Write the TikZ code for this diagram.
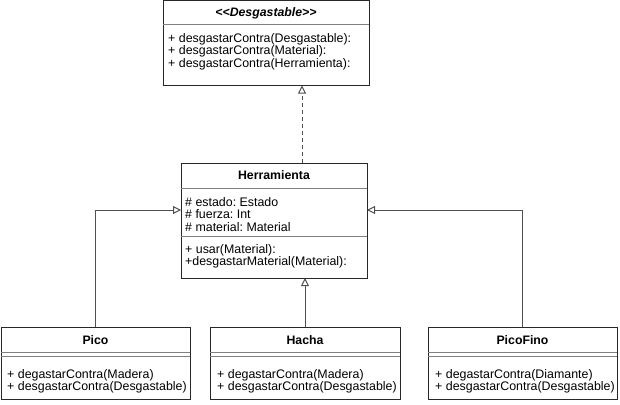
\documentclass[tikz,border=0pt]{standalone}
\usepackage{fontspec}
\setmainfont{Liberation Sans}
\usetikzlibrary{arrows.meta, positioning, calc}
\definecolor{border}{RGB}{40, 40, 40}
\definecolor{divider}{RGB}{128, 128, 128}
\definecolor{connector}{RGB}{80, 80, 80}
\frenchspacing

\begin{document}
\begin{tikzpicture}[
    x=1pt, y=-1pt,
    classbox/.style={rectangle, draw=border, fill=white, anchor=north west, inner sep=0pt, outer sep=0pt, line width=1pt},
    classname/.style={anchor=base, inner sep=0pt, font=\fontsize{12.3}{12.3}\selectfont\bfseries},
    members/.style={anchor=north west, inner sep=0pt, align=left, font=\fontsize{12.4}{12.3}\selectfont},
    divider/.style={draw=divider, line width=1pt},
    line/.style={draw=connector, line width=1pt, -{Triangle[open, length=8pt, width=8pt, fill=white]}},
    realize/.style={line, dash pattern=on 4pt off 3pt}
]
    \useasboundingbox[fill=white] (0,0) rectangle (620,404);

    % Nodes
    \node [classbox, minimum width=206pt, minimum height=85pt] (desgastable) at (163,0.5) {};
    \node [classbox, minimum width=186pt, minimum height=115pt] (herramienta) at (181,163) {};
    \node [classbox, minimum width=189pt, minimum height=72pt] (pico) at (1,327) {};
    \node [classbox, minimum width=190pt, minimum height=72pt] (hacha) at (210,327) {};
    \node [classbox, minimum width=189pt, minimum height=72pt] (picofino) at (428,327) {};

    % Compartments
    \path [divider] ([yshift=-24pt]desgastable.north west) -- ([yshift=-24pt]desgastable.north east);
    \path [divider] ([yshift=-25pt]herramienta.north west) -- ([yshift=-25pt]herramienta.north east);
    \path [divider] ([yshift=-73pt]herramienta.north west) -- ([yshift=-73pt]herramienta.north east);
    \foreach \cls in {pico, hacha, picofino} {
        \path [divider] ([yshift=-25pt]\cls.north west) -- ([yshift=-25pt]\cls.north east);
        \path [divider] ([yshift=-29pt]\cls.north west) -- ([yshift=-29pt]\cls.north east);
    }

    % Texts
    \node [classname] at ($(desgastable.north)+(0,16.5)$) {\itshape <\kern0pt<Desgastable>\kern0pt>};
    \node [members] at ($(desgastable.north west)+(5,33)$) {+ desgastarContra(Desgastable):\\+ desgastarContra(Material):\\+ desgastarContra(Herramienta):};

    \node [classname] at ($(herramienta.north)+(0,16.5)$) {Herramienta};
    \node [members] at ($(herramienta.north west)+(4,34.5)$) {\# estado: Estado\\\# fuerza: Int\\\# material: Material};
    \node [members] at ($(herramienta.north west)+(4,81.5)$) {+ usar(Material):\\+desgastarMaterial(Material):};

    \node [classname] at ($(pico.north)+(0,17.5)$) {Pico};
    \node [members] at ($(pico.north west)+(6,42.5)$) {+ degastarContra(Madera)\\+ desgastarContra(Desgastable)};

    \node [classname] at ($(hacha.north)+(0,17.5)$) {Hacha};
    \node [members] at ($(hacha.north west)+(7,42.5)$) {+ degastarContra(Madera)\\+ desgastarContra(Desgastable)};

    \node [classname] at ($(picofino.north)+(0,17.5)$) {PicoFino};
    \node [members] at ($(picofino.north west)+(7,42.5)$) {+ degastarContra(Diamante)\\+ desgastarContra(Desgastable)};

    % Paths
    \path [realize] ([xshift=28pt]herramienta.north) -- ([xshift=28pt]herramienta.north |- desgastable.south);
    \path [line] (pico.north) |- ([yshift=-47pt]herramienta.north west);
    \path [line] (hacha.north) -- (hacha.north |- herramienta.south);
    \path [line] (picofino.north) |- ([yshift=-47pt]herramienta.north east);

\end{tikzpicture}
\end{document}
